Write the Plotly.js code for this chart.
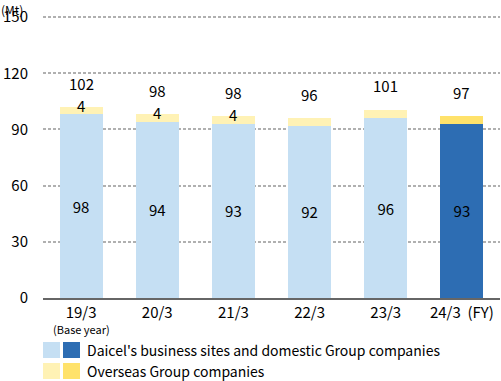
<!DOCTYPE html>
<html><head><meta charset="utf-8">
<script src="https://cdn.plot.ly/plotly-3.0.1.min.js"></script>
<style>html,body{margin:0;padding:0;background:#fff}#chart{width:501px;height:381px}</style>
</head><body><div id="chart"></div>
<script>
const categories = ['19/3', '20/3', '21/3', '22/3', '23/3', '24/3'];
const tickLabels = ['19/3', '20/3', '21/3', '22/3', '23/3', '24/3&nbsp;&nbsp;(FY)'];
const baseYearNote = '(Base year)';
const yTicks = [0, 30, 60, 90, 120, 150];
const domestic = [98, 94, 93, 92, 96, 93];
const overseas = [4, 4, 4, 4, 4.5, 4];
const totals = [102, 98, 98, 96, 101, 97];
const domesticLabels = ['98', '94', '93', '92', '96', '93'];
const overseasLabels = ['4', '4', '4', '', '', ''];
const domesticColors = ['#c5dff3', '#c5dff3', '#c5dff3', '#c5dff3', '#c5dff3', '#2d6db3'];
const overseasColors = ['#fff2b5', '#fff2b5', '#fff2b5', '#fff2b5', '#fff2b5', '#ffe26b'];

const FONT = '"Noto Sans CJK JP", "Noto Sans", sans-serif';

const traces = [
  {type: 'bar', x: categories, y: domestic, name: 'domestic',
   marker: {color: domesticColors}, width: 0.565,
   text: domesticLabels, texttemplate: '%{text}', textposition: 'inside',
   insidetextanchor: 'middle', insidetextfont: {color: '#000', size: 15, family: FONT},
   hoverinfo: 'skip', showlegend: false},
  {type: 'bar', x: categories, y: overseas, name: 'overseas',
   marker: {color: overseasColors}, width: 0.565,
   textposition: 'none', hoverinfo: 'skip', showlegend: false}
];

const annotations = [];
categories.forEach((c, i) => {
  const top = domestic[i] + overseas[i];
  annotations.push({x: c, y: top, xref: 'x', yref: 'y', text: String(totals[i]),
    showarrow: false, yanchor: 'middle', yshift: 24, font: {size: 15, color: '#000', family: FONT}});
  if (overseasLabels[i]) {
    annotations.push({x: c, y: top, xref: 'x', yref: 'y', text: overseasLabels[i],
      showarrow: false, yanchor: 'middle', yshift: 2, font: {size: 15, color: '#000', family: FONT}});
  }
});
annotations.push({x: 0, y: 1, xref: 'paper', yref: 'paper', xanchor: 'left', yanchor: 'top',
  xshift: -43, yshift: 16, borderpad: 0, text: '(Mt)', showarrow: false,
  font: {size: 12, color: '#000', family: FONT}});
annotations.push({x: categories[0], y: 0, xref: 'x', yref: 'paper', xanchor: 'center', yanchor: 'middle',
  yshift: -31, text: baseYearNote, showarrow: false, font: {size: 11, color: '#000', family: FONT}});

// custom legend (two swatches per entry)
const legendItems = [
  {colors: [domesticColors[0], domesticColors[5]], label: "Daicel's business sites and domestic Group companies", y0: 342},
  {colors: [overseasColors[0], overseasColors[5]], label: 'Overseas Group companies', y0: 363}
];
const PH = 282, PW = 457, PT = 16;
const shapes = [];
legendItems.forEach(it => {
  it.colors.forEach((col, k) => {
    const x0 = 43 + k * 20;
    shapes.push({type: 'rect', xref: 'paper', yref: 'paper',
      x0: (x0 - 43) / PW, x1: (x0 + 17 - 43) / PW,
      y0: (PT + PH - it.y0) / PH, y1: (PT + PH - it.y0 - 16) / PH,
      line: {width: 0}, fillcolor: col});
  });
  annotations.push({xref: 'paper', yref: 'paper', x: (85 - 43) / PW, y: (PT + PH - it.y0 - 8) / PH,
    xanchor: 'left', yanchor: 'middle', text: it.label, showarrow: false,
    font: {size: 14, color: '#000', family: FONT}});
});

const layout = {
  width: 501, height: 381,
  margin: {l: 43, r: 1, t: PT, b: 83},
  barmode: 'stack',
  paper_bgcolor: '#fff', plot_bgcolor: '#fff',
  font: {family: FONT, size: 15, color: '#000'},
  xaxis: {type: 'category', tickvals: categories, ticktext: tickLabels,
    range: [-0.5, 5.5], showgrid: false, showline: true, linecolor: '#666', linewidth: 1.5,
    ticks: '', ticklabelstandoff: 0, tickfont: {size: 15, family: FONT}},
  yaxis: {range: [0, 150.6], tickmode: 'array', tickvals: yTicks, showgrid: true,
    gridcolor: '#b0b0b0', gridwidth: 1.5, griddash: '3px,2px', zeroline: false, showline: false,
    ticks: '', ticklabelstandoff: 14, tickfont: {size: 15, family: FONT}},
  annotations: annotations, shapes: shapes, showlegend: false
};

Plotly.newPlot('chart', traces, layout, {displayModeBar: false});
</script></body></html>
